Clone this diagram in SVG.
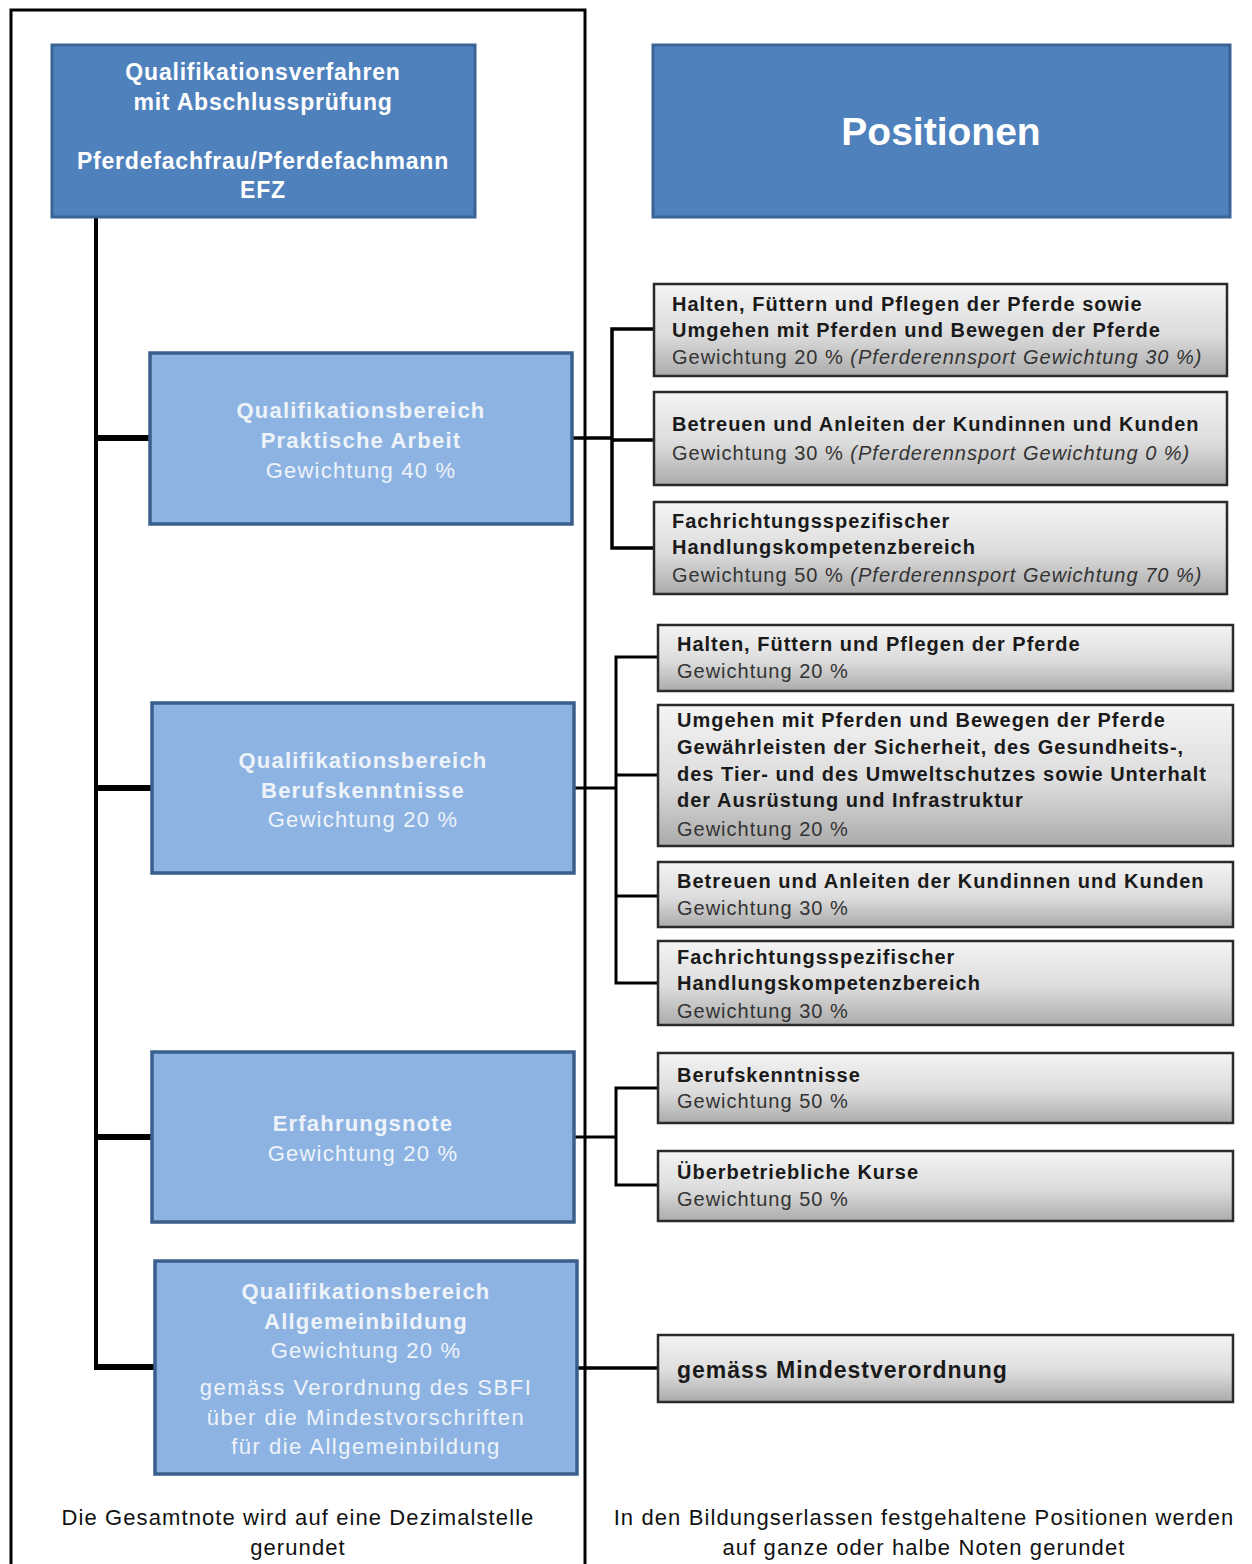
<svg xmlns="http://www.w3.org/2000/svg" width="1252" height="1564" viewBox="0 0 1252 1564">
<defs>
<linearGradient id="gray" x1="0" y1="0" x2="0" y2="1">
<stop offset="0" stop-color="#f4f4f4"/>
<stop offset="0.55" stop-color="#dcdcdc"/>
<stop offset="1" stop-color="#ababab"/>
</linearGradient>
<style>
.dark{fill:#4f81bd;stroke:#3b6496;stroke-width:3}
.light{fill:#8db3e2;stroke:#3a5f8c;stroke-width:3.5}
.grayb{fill:url(#gray);stroke:#2a2a2a;stroke-width:2.5}
.wt{font-family:"Liberation Sans",Arial,sans-serif;fill:#ffffff;text-anchor:middle}
.tb{font-size:23px;letter-spacing:0.8px}
.lt{font-family:"Liberation Sans",Arial,sans-serif;fill:#eef3fa;text-anchor:middle;font-size:22px;letter-spacing:1.2px}
.gt{font-family:"Liberation Sans",Arial,sans-serif;fill:#1a1a1a;font-size:20px;letter-spacing:1px}
.b{font-weight:bold}
.n{fill:#333}
.i{font-style:italic}
.foot{font-family:"Liberation Sans",Arial,sans-serif;fill:#111;font-size:22px;letter-spacing:1.1px;text-anchor:middle}
.con{fill:none;stroke:#000;stroke-linejoin:miter}
</style>
</defs>
<rect width="1252" height="1564" fill="#ffffff"/>
<path d="M11,1564 V10 H585 V1564" fill="none" stroke="#000" stroke-width="3"/>

<g id="connectors">
<path class="con" stroke-width="4" d="M96,217 V1370"/>
<path class="con" stroke-width="6" d="M96,438 H150 M96,788 H152 M96,1137 H152 M96,1367 H155"/>
<path class="con" stroke-width="3.5" d="M572,438 H612 M654,329 H612 V548 H654 M612,440 H654"/>
<path class="con" stroke-width="3" d="M574,788 H616 M658,657 H616 V983 H658 M616,775 H658 M616,896 H658"/>
<path class="con" stroke-width="3" d="M574,1137 H616 M658,1088 H616 V1185 H658"/>
<path class="con" stroke-width="3.5" d="M577,1368 H658"/>
</g>

<g id="root">
<rect class="dark" x="52" y="45" width="423" height="172"/>
<text class="wt b tb" x="263" y="80">Qualifikationsverfahren</text>
<text class="wt b tb" x="263" y="110">mit Abschlussprüfung</text>
<text class="wt b tb" x="263" y="169">Pferdefachfrau/Pferdefachmann</text>
<text class="wt b tb" x="263" y="198">EFZ</text>
</g>

<g id="positionen">
<rect class="dark" x="653" y="45" width="577" height="172"/>
<text class="wt b" style="font-size:39px" x="941" y="145">Positionen</text>
</g>

<g id="praktisch">
<rect class="light" x="150" y="353" width="422" height="171"/>
<text class="lt b" x="361" y="418">Qualifikationsbereich</text>
<text class="lt b" x="361" y="448">Praktische Arbeit</text>
<text class="lt" x="361" y="478">Gewichtung 40 %</text>
</g>

<g id="beruf">
<rect class="light" x="152" y="703" width="422" height="170"/>
<text class="lt b" x="363" y="768">Qualifikationsbereich</text>
<text class="lt b" x="363" y="798">Berufskenntnisse</text>
<text class="lt" x="363" y="827">Gewichtung 20 %</text>
</g>

<g id="erfahrung">
<rect class="light" x="152" y="1052" width="422" height="170"/>
<text class="lt b" x="363" y="1131">Erfahrungsnote</text>
<text class="lt" x="363" y="1161">Gewichtung 20 %</text>
</g>

<g id="allgemein">
<rect class="light" x="155" y="1261" width="422" height="213"/>
<text class="lt b" x="366" y="1299">Qualifikationsbereich</text>
<text class="lt b" x="366" y="1329">Allgemeinbildung</text>
<text class="lt" x="366" y="1358">Gewichtung 20 %</text>
<text class="lt" x="366" y="1395" style="letter-spacing:1.5px">gemäss Verordnung des SBFI</text>
<text class="lt" x="366" y="1425" style="letter-spacing:1.5px">über die Mindestvorschriften</text>
<text class="lt" x="366" y="1454" style="letter-spacing:1.5px">für die Allgemeinbildung</text>
</g>

<g id="p1">
<rect class="grayb" x="654" y="284" width="573" height="92"/>
<text class="gt b" x="672" y="311">Halten, Füttern und Pflegen der Pferde sowie</text>
<text class="gt b" x="672" y="337">Umgehen mit Pferden und Bewegen der Pferde</text>
<text class="gt n" x="672" y="364">Gewichtung 20 % <tspan class="i">(Pferderennsport Gewichtung 30 %)</tspan></text>
</g>
<g id="p2">
<rect class="grayb" x="654" y="392" width="573" height="93"/>
<text class="gt b" x="672" y="431">Betreuen und Anleiten der Kundinnen und Kunden</text>
<text class="gt n" x="672" y="460">Gewichtung 30 % <tspan class="i">(Pferderennsport Gewichtung 0 %)</tspan></text>
</g>
<g id="p3">
<rect class="grayb" x="654" y="502" width="573" height="92"/>
<text class="gt b" x="672" y="528">Fachrichtungsspezifischer</text>
<text class="gt b" x="672" y="554">Handlungskompetenzbereich</text>
<text class="gt n" x="672" y="582">Gewichtung 50 % <tspan class="i">(Pferderennsport Gewichtung 70 %)</tspan></text>
</g>

<g id="b1">
<rect class="grayb" x="658" y="625" width="575" height="66"/>
<text class="gt b" x="677" y="651">Halten, Füttern und Pflegen der Pferde</text>
<text class="gt n" x="677" y="678">Gewichtung 20 %</text>
</g>
<g id="b2">
<rect class="grayb" x="658" y="705" width="575" height="141"/>
<text class="gt b" x="677" y="727">Umgehen mit Pferden und Bewegen der Pferde</text>
<text class="gt b" x="677" y="754">Gewährleisten der Sicherheit, des Gesundheits-,</text>
<text class="gt b" x="677" y="781">des Tier- und des Umweltschutzes sowie Unterhalt</text>
<text class="gt b" x="677" y="807">der Ausrüstung und Infrastruktur</text>
<text class="gt n" x="677" y="836">Gewichtung 20 %</text>
</g>
<g id="b3">
<rect class="grayb" x="658" y="862" width="575" height="65"/>
<text class="gt b" x="677" y="888">Betreuen und Anleiten der Kundinnen und Kunden</text>
<text class="gt n" x="677" y="915">Gewichtung 30 %</text>
</g>
<g id="b4">
<rect class="grayb" x="658" y="941" width="575" height="84"/>
<text class="gt b" x="677" y="964">Fachrichtungsspezifischer</text>
<text class="gt b" x="677" y="990">Handlungskompetenzbereich</text>
<text class="gt n" x="677" y="1018">Gewichtung 30 %</text>
</g>

<g id="e1">
<rect class="grayb" x="658" y="1053" width="575" height="70"/>
<text class="gt b" x="677" y="1082">Berufskenntnisse</text>
<text class="gt n" x="677" y="1108">Gewichtung 50 %</text>
</g>
<g id="e2">
<rect class="grayb" x="658" y="1151" width="575" height="70"/>
<text class="gt b" x="677" y="1179">Überbetriebliche Kurse</text>
<text class="gt n" x="677" y="1206">Gewichtung 50 %</text>
</g>

<g id="a1">
<rect class="grayb" x="658" y="1335" width="575" height="67"/>
<text class="gt b" style="font-size:23px;letter-spacing:1px" x="677" y="1378">gemäss Mindestverordnung</text>
</g>

<g id="footer">
<text class="foot" x="298" y="1525">Die Gesamtnote wird auf eine Dezimalstelle</text>
<text class="foot" x="298" y="1555">gerundet</text>
<text class="foot" x="924" y="1525">In den Bildungserlassen festgehaltene Positionen werden</text>
<text class="foot" x="924" y="1555">auf ganze oder halbe Noten gerundet</text>
</g>
</svg>
